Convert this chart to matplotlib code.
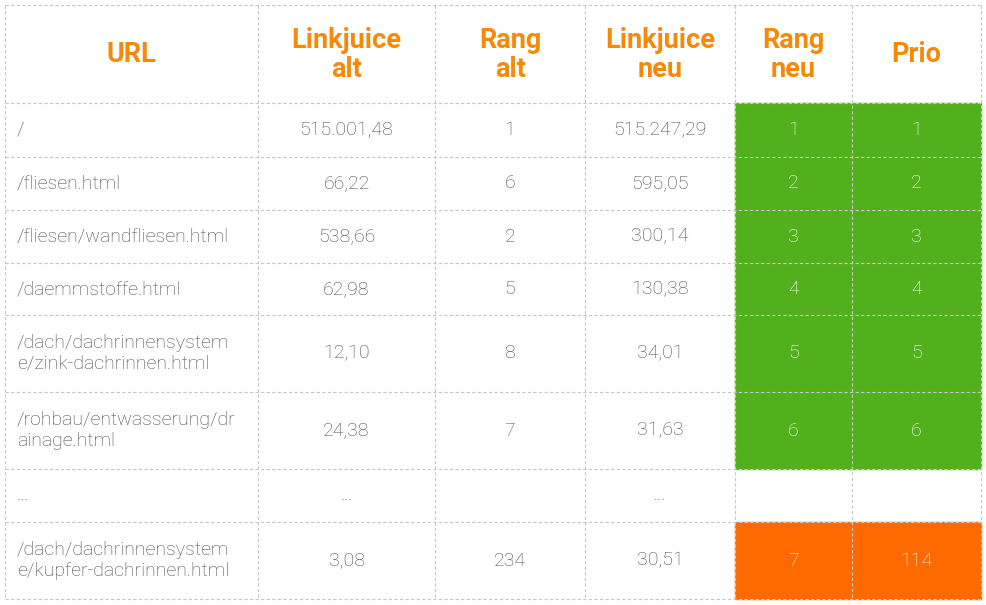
import matplotlib
matplotlib.use("Agg")
import matplotlib.pyplot as plt
from matplotlib.patches import Rectangle

headers = ["URL", "Linkjuice\nalt", "Rang\nalt", "Linkjuice\nneu", "Rang\nneu", "Prio"]
urls = ["/", "/fliesen.html", "/fliesen/wandfliesen.html", "/daemmstoffe.html",
        "/dach/dachrinnensystem\ne/zink-dachrinnen.html",
        "/rohbau/entwasserung/dr\nainage.html", "...",
        "/dach/dachrinnensystem\ne/kupfer-dachrinnen.html"]
lj_alt = ["515.001,48", "66,22", "538,66", "62,98", "12,10", "24,38", "...", "3,08"]
rang_alt = ["1", "6", "2", "5", "8", "7", "", "234"]
lj_neu = ["515.247,29", "595,05", "300,14", "130,38", "34,01", "31,63", "...", "30,51"]
rang_neu = ["1", "2", "3", "4", "5", "6", "", "7"]
prio = ["1", "2", "3", "4", "5", "6", "", "114"]
highlight = ["green"] * 6 + ["none", "orange"]

xs = [5, 258, 435, 585, 735, 852, 981]
ys = [5, 103, 157, 210, 263, 315, 392, 469, 522, 599]
colors = {"green": "#52b01c", "orange": "#ff6a00"}

fig = plt.figure(figsize=(9.86, 6.05), dpi=100)
ax = fig.add_axes([0, 0, 1, 1])
ax.set_xlim(0, 986); ax.set_ylim(605, 0); ax.axis("off")
font = "Roboto"

for c, h in enumerate(headers):
    ax.text((xs[c] + xs[c+1]) / 2, (ys[0] + ys[1]) / 2 + 1, h, ha="center", va="center",
            fontsize=19.5, fontweight="bold", color="#f5890a", family=font, linespacing=1.05)

cols = [urls, lj_alt, rang_alt, lj_neu, rang_neu, prio]
for r in range(len(urls)):
    y0, y1 = ys[r+1], ys[r+2]
    for c in (4, 5):
        if highlight[r] != "none":
            ax.add_patch(Rectangle((xs[c], y0), xs[c+1] - xs[c], y1 - y0,
                                   color=colors[highlight[r]], zorder=0))
    for c, col in enumerate(cols):
        txt = col[r]
        white = c >= 4 and highlight[r] != "none"
        if c == 0:
            ax.text(xs[0] + 12, (y0 + y1) / 2, txt, ha="left", va="center", fontsize=14,
                    color="#4a4a4a", family=font, fontweight="light", linespacing=1.2)
        else:
            ax.text((xs[c] + xs[c+1]) / 2, (y0 + y1) / 2, txt, ha="center", va="center",
                    fontsize=14, color="white" if white else "#4a4a4a", family=font,
                    fontweight="light")

for x in xs:
    ax.plot([x, x], [ys[0], ys[-1]], color="#c8c8c8", lw=0.8, ls=(0, (3, 2)), zorder=2)
for y in ys:
    ax.plot([xs[0], xs[-1]], [y, y], color="#c8c8c8", lw=0.8, ls=(0, (3, 2)), zorder=2)

fig.savefig("out.png", dpi=100)
